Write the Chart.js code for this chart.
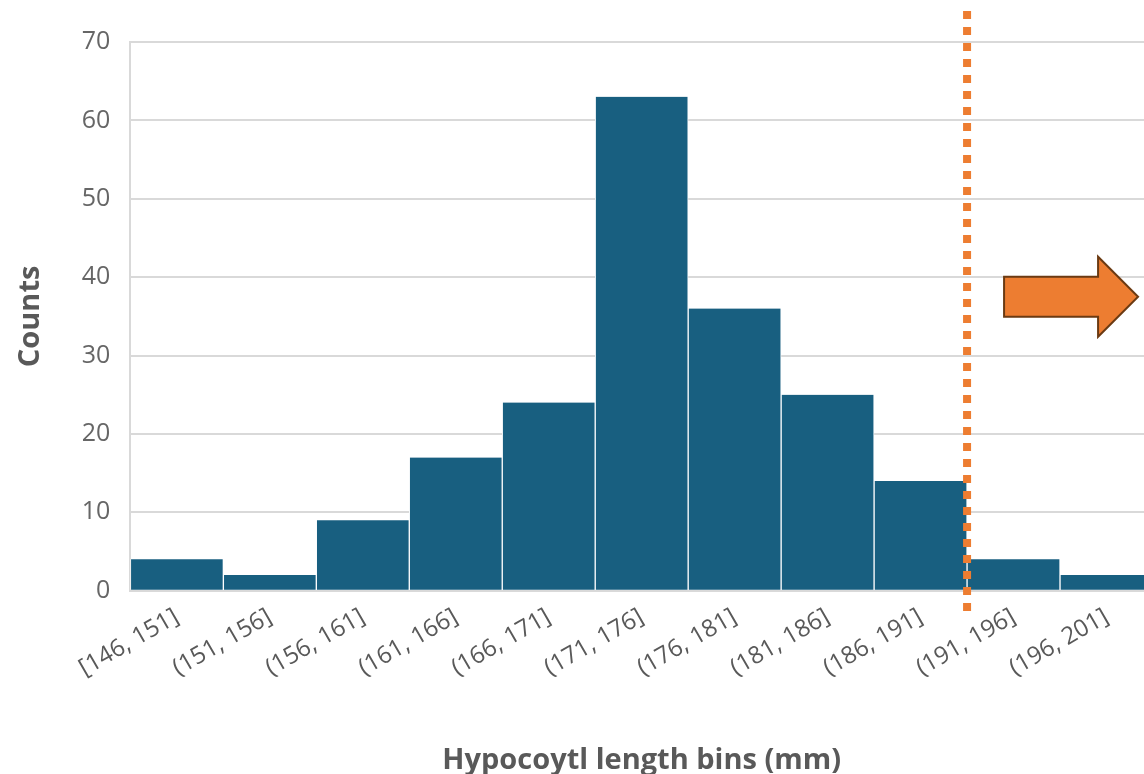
<!DOCTYPE html>
<html>
<head>
<meta charset="utf-8">
<script src="https://cdn.jsdelivr.net/npm/chart.js@4/dist/chart.umd.min.js"></script>
<style>
  html, body { margin: 0; padding: 0; background: #fff; overflow: hidden; }
  #wrap { position: relative; width: 1153px; height: 774px; }
</style>
</head>
<body>
<div id="wrap"><canvas id="hist"></canvas></div>
<script>
// --- DATA ---
const bins = ["[146, 151]", "(151, 156]", "(156, 161]", "(161, 166]", "(166, 171]", "(171, 176]",
              "(176, 181]", "(181, 186]", "(186, 191]", "(191, 196]", "(196, 201]"];
const counts = [4, 2, 9, 17, 24, 63, 36, 25, 14, 4, 2];
const yTicks = [0, 10, 20, 30, 40, 50, 60, 70];
const cutoffIndex = 8.5; // boundary between (186,191] and (191,196]

const grey = "#595959";

// dotted cut-off line + orange arrow
const markerPlugin = {
    id: "marker",
    afterDatasetsDraw(chart) {
        const ctx = chart.ctx;
        const x = chart.scales.x.getPixelForValue(cutoffIndex);
        const y0 = chart.scales.y.getPixelForValue(0);
        ctx.save();
        ctx.strokeStyle = "#ED7D31";
        ctx.lineWidth = 8;
        ctx.setLineDash([8, 8]);
        ctx.beginPath();
        ctx.moveTo(x, 11);
        ctx.lineTo(x, y0 + 21);
        ctx.stroke();
        ctx.setLineDash([]);

        // arrow pointing right
        const ax = x + 37, ay = chart.scales.y.getPixelForValue(37.5);
        ctx.beginPath();
        ctx.moveTo(ax, ay - 20);
        ctx.lineTo(ax + 94, ay - 20);
        ctx.lineTo(ax + 94, ay - 40);
        ctx.lineTo(ax + 134, ay);
        ctx.lineTo(ax + 94, ay + 40);
        ctx.lineTo(ax + 94, ay + 20);
        ctx.lineTo(ax, ay + 20);
        ctx.closePath();
        ctx.fillStyle = "#ED7D31";
        ctx.fill();
        ctx.lineWidth = 2;
        ctx.strokeStyle = "#6b3a12";
        ctx.stroke();
        ctx.restore();
    }
};

new Chart(document.getElementById("hist"), {
    type: "bar",
    data: {
        labels: bins,
        datasets: [{
            data: counts,
            backgroundColor: "#185F80",
            borderColor: "#ffffff",
            borderWidth: { left: 1, right: 1, top: 0, bottom: 0 },
            barPercentage: 1,
            categoryPercentage: 1
        }]
    },
    options: {
        responsive: true,
        maintainAspectRatio: false,
        animation: false,
        layout: { padding: { top: 42, left: 13, right: 0, bottom: 0 } },
        plugins: { legend: { display: false }, tooltip: { enabled: false } },
        scales: {
            x: {
                grid: { display: false },
                border: { color: "#d9d9d9", width: 2 },
                ticks: {
                    color: grey,
                    font: { family: "'Open Sans', sans-serif", size: 24 },
                    maxRotation: 30, minRotation: 30,
                    padding: 4
                },
                title: {
                    display: true,
                    text: "Hypocoytl length bins (mm)",
                    color: grey,
                    font: { family: "'Open Sans', sans-serif", size: 29, weight: "bold", lineHeight: 0.9 },
                    padding: { top: 61, bottom: 0 }
                }
            },
            y: {
                min: 0, max: 70,
                afterBuildTicks(axis) { axis.ticks = yTicks.map(v => ({ value: v })); },
                grid: { color: "#d9d9d9", lineWidth: 2, drawTicks: false },
                border: { color: "#d9d9d9", width: 2 },
                ticks: {
                    color: "#666666",
                    font: { family: "'Open Sans', sans-serif", size: 25 },
                    padding: 20
                },
                title: {
                    display: true,
                    text: "Counts",
                    color: grey,
                    font: { family: "'Open Sans', sans-serif", size: 29, weight: "bold" },
                    padding: { top: 0, bottom: 14 }
                }
            }
        }
    },
    plugins: [markerPlugin]
});
</script>
</body>
</html>
